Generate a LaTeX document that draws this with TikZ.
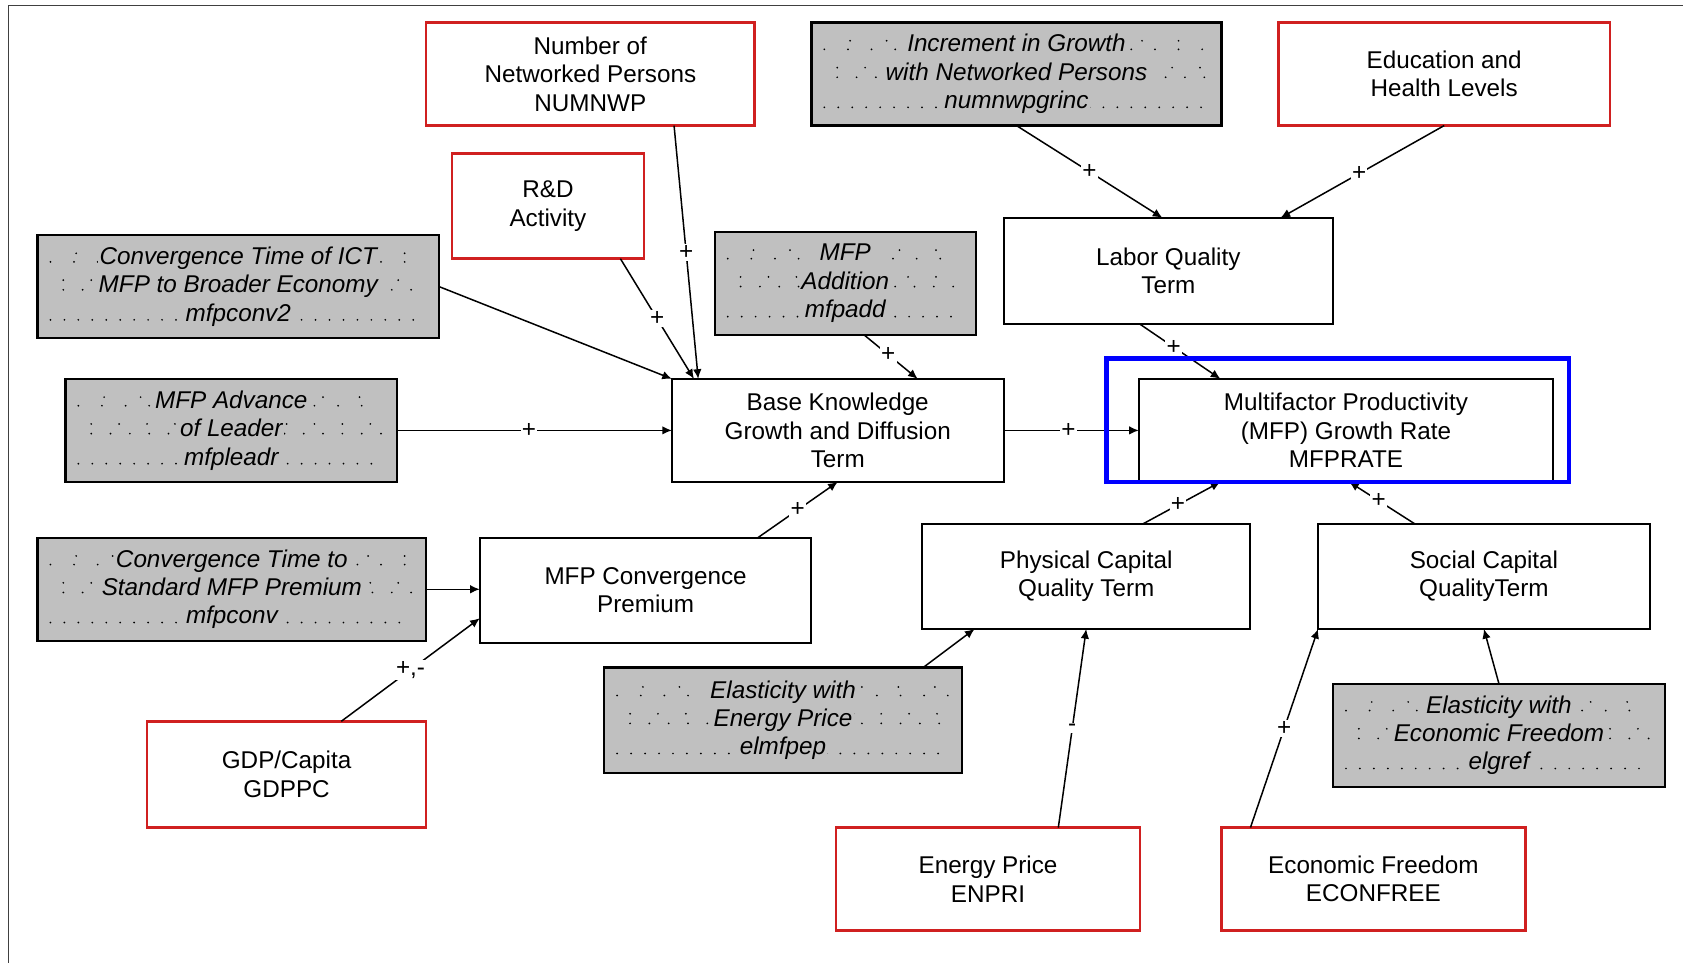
\documentclass[tikz,border=0pt]{standalone}
\usepackage{fontspec}
\setmainfont{Liberation Sans}
\usetikzlibrary{arrows.meta}
\definecolor{boxgray}{RGB}{192,192,192}
\definecolor{boxred}{RGB}{208,32,32}
\definecolor{hlblue}{RGB}{0,0,255}
\newlength\glsep
\setlength\glsep{0.6pt}
\newcommand\gl[1]{{\setlength\fboxsep{\glsep}\colorbox{boxgray}{#1}}}
\newcommand\dotrow[3]{%
  \draw[line width=0.9pt, line cap=round, dash pattern=on 0pt off #2, dash phase=#3]
    ([xshift=6pt,yshift=#1]path picture bounding box.west) --
    ([xshift=-6pt,yshift=#1]path picture bounding box.east);}
\tikzset{
  boxbase/.style={draw, line width=0.9pt, align=center, inner sep=0pt, outer sep=0pt,
    font=\fontsize{11.3}{13.25}\selectfont},
  wbox/.style={boxbase, fill=white},
  rbox/.style={boxbase, draw=boxred, line width=1.2pt, fill=white},
  gbox/.style={boxbase, fill=boxgray, line width=1.1pt, font=\fontsize{11.3}{13.25}\selectfont\itshape,
    path picture={
      \dotrow{15.5pt}{17pt}{5pt}
      \dotrow{11.5pt}{11pt}{0pt}
      \dotrow{3pt}{13pt}{7pt}
      \dotrow{-1.5pt}{9pt}{3pt}
      \dotrow{-15.5pt}{6.5pt}{0pt}
    }},
  conn/.style={line width=0.7pt, -{Latex[length=4.5pt,width=4pt]}},
  lab/.style={fill=white, inner sep=0.6pt, font=\fontsize{11.3}{13}\selectfont},
}
\begin{document}
\begin{tikzpicture}[x=0.5pt,y=-0.5pt]
\useasboundingbox (0,0) rectangle (1568,897);
\fill[white] (0,0) rectangle (1568,897);
\draw[line width=0.6pt, black!75] (8,897) -- (8,5) -- (1568,5);

% nodes
\node[rbox, minimum width=153pt, minimum height=48pt] (numnwp) at (550,69) {Number of\\Networked Persons\\NUMNWP};
\node[gbox, minimum width=191pt, minimum height=48pt] (grinc) at (947,69) {\gl{Increment in Growth}\\\gl{with Networked Persons}\\\gl{numnwpgrinc}};
\node[rbox, minimum width=154.5pt, minimum height=48pt] (edu) at (1345.5,69) {Education and\\Health Levels};
\node[rbox, minimum width=89.5pt, minimum height=49pt] (rd) at (510.5,192) {R\&D\\Activity};
\node[gbox, minimum width=187pt, minimum height=48pt] (conv2) at (222,267) {\gl{Convergence Time of ICT}\\\gl{MFP to Broader Economy}\\\gl{mfpconv2}};
\node[gbox, minimum width=121.5pt, minimum height=48pt] (mfpadd) at (787.5,264) {\gl{MFP}\\\gl{Addition}\\\gl{mfpadd}};
\node[wbox, minimum width=153.5pt, minimum height=49.5pt] (labor) at (1088.5,252.5) {Labor Quality\\Term};
\node[gbox, minimum width=154.5pt, minimum height=48pt] (leadr) at (215.5,401) {\gl{MFP Advance}\\\gl{of Leader}\\\gl{mfpleadr}};
\node[wbox, minimum width=154.5pt, minimum height=48pt] (base) at (780.5,401) {Base Knowledge\\Growth and Diffusion\\Term};
\node[wbox, minimum width=193pt, minimum height=48pt] (mfprate) at (1254,401) {Multifactor Productivity\\(MFP) Growth Rate\\MFPRATE};
\node[gbox, minimum width=181pt, minimum height=48pt] (conv) at (216,549) {\gl{Convergence Time to}\\\gl{Standard MFP Premium}\\\gl{mfpconv}};
\node[wbox, minimum width=154.5pt, minimum height=49pt] (prem) at (601.5,550) {MFP Convergence\\Premium};
\node[wbox, minimum width=153pt, minimum height=49pt] (phys) at (1012,537) {Physical Capital\\Quality Term};
\node[wbox, minimum width=154.5pt, minimum height=49pt] (social) at (1382.5,537) {Social Capital\\QualityTerm};
\node[gbox, minimum width=166.5pt, minimum height=49pt] (elmfpep) at (729.5,671) {\gl{Elasticity with}\\\gl{Energy Price}\\\gl{elmfpep}};
\node[gbox, minimum width=154.5pt, minimum height=48pt] (elgref) at (1396.5,685) {\gl{Elasticity with}\\\gl{Economic Freedom}\\\gl{elgref}};
\node[rbox, minimum width=130pt, minimum height=49.5pt] (gdppc) at (267,721.5) {GDP/Capita\\GDPPC};
\node[rbox, minimum width=141.5pt, minimum height=48pt] (enpri) at (920.5,819) {Energy Price\\ENPRI};
\node[rbox, minimum width=141.5pt, minimum height=48pt] (econ) at (1279.5,819) {Economic Freedom\\ECONFREE};

% connectors
\draw[conn] ([xshift=39pt]numnwp.south) -- node[lab]{+} ([xshift=-65pt]base.north);
\draw[conn] ([xshift=33.75pt]rd.south) -- node[lab]{+} ([xshift=-67pt]base.north);
\draw[conn] (conv2.east) -- (base.north west);
\draw[conn] ([xshift=8.75pt]mfpadd.south) -- node[lab,pos=.45]{+} ([xshift=37.25pt]base.north);
\draw[conn] (leadr.east) -- node[lab,pos=.48]{+} (base.west);
\draw[conn] (grinc.south) -- node[lab]{+} ([xshift=-2.75pt]labor.north);
\draw[conn] (edu.south) -- node[lab,pos=.52]{+} ([xshift=52.25pt]labor.north);
\draw[conn] ([xshift=-13.25pt]labor.south) -- node[lab,pos=.42]{+} ([xshift=-58.5pt]mfprate.north);
\draw[conn] (base.east) -- node[lab,pos=.48]{+} (mfprate.west);
\draw[conn] ([xshift=52.25pt]prem.north) -- node[lab]{+} (base.south);
\draw[conn] ([xshift=26.5pt]phys.north) -- node[lab,pos=.45]{+} ([xshift=-58.5pt]mfprate.south);
\draw[conn] ([xshift=-32.25pt]social.north) -- node[lab,pos=.55]{+} ([xshift=1.5pt]mfprate.south);
\draw[conn] (conv.east) -- (prem.west |- conv.east);
\draw[conn] ([xshift=25.5pt]gdppc.north) -- node[lab]{+,-} ([yshift=-13pt]prem.west);
\draw[conn] ([xshift=65.25pt]elmfpep.north) -- ([xshift=-52pt]phys.south);
\draw[conn] ([xshift=32.75pt]enpri.north) -- node[lab]{-} (phys.south);
\draw[conn] ([xshift=-57.25pt]econ.north) -- node[lab]{+} (social.south west);
\draw[conn] (elgref.north) -- (social.south);

% highlight frame around MFPRATE
\node[draw=hlblue, line width=2pt, minimum width=215.5pt, minimum height=57.5pt, inner sep=0pt] (hl) at (1246.5,391.5) {};
\end{tikzpicture}
\end{document}
